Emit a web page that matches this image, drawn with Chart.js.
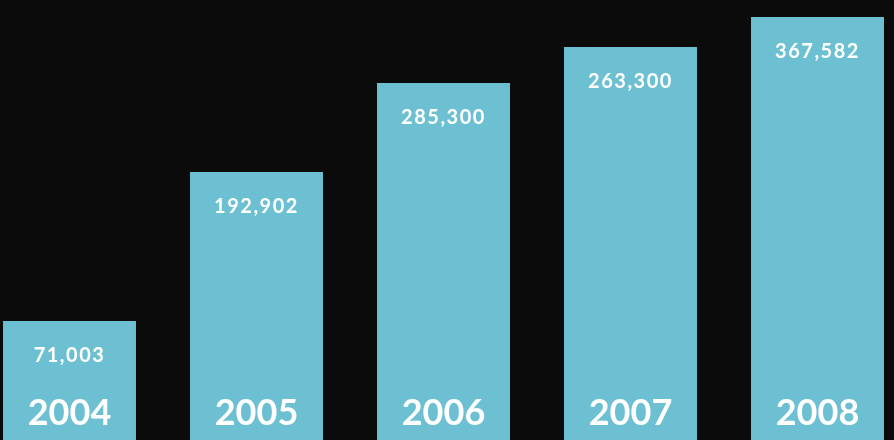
<!DOCTYPE html>
<html>
<head>
<meta charset="utf-8">
<script src="https://cdn.jsdelivr.net/npm/chart.js@4/dist/chart.umd.min.js"></script>
<style>
    html, body { margin: 0; padding: 0; background: #0b0b0b; overflow: hidden; }
    #wrap { position: absolute; left: -24.5px; top: 0; width: 935px; height: 440px; }
</style>
</head>
<body>
<div id="wrap"><canvas id="chart"></canvas></div>
<script>
// 年份与柱子数据
const years = ['2004', '2005', '2006', '2007', '2008'];
// 柱高（按图片读出，与标注数字不成比例）
const barHeights = [119, 268, 357, 393, 423];
// 柱内标注
const valueLabels = ['71,003', '192,902', '285,300', '263,300', '367,582'];

const barColor = '#6cc0d2';

// 在柱子内部画数字和年份
const barTextPlugin = {
    id: 'barText',
    afterDatasetsDraw(chart) {
        const ctx = chart.ctx;
        const meta = chart.getDatasetMeta(0);
        const bottom = chart.chartArea.bottom;
        ctx.save();
        ctx.fillStyle = '#ffffff';
        ctx.textAlign = 'center';
        ctx.textBaseline = 'middle';
        meta.data.forEach((bar, i) => {
            ctx.font = 'bold 20px Lato';
            ctx.letterSpacing = '1.5px';
            ctx.fillText(valueLabels[i], bar.x, bar.y + 35);
            ctx.font = 'bold 36px Lato';
            ctx.letterSpacing = '0px';
            ctx.fillText(years[i], bar.x, bottom - 27);
        });
        ctx.restore();
    }
};

new Chart(document.getElementById('chart'), {
    type: 'bar',
    data: {
        labels: years,
        datasets: [{
            data: barHeights,
            backgroundColor: barColor,
            borderWidth: 0,
            barPercentage: 0.711,
            categoryPercentage: 1.0
        }]
    },
    options: {
        responsive: true,
        maintainAspectRatio: false,
        animation: false,
        layout: { padding: 0 },
        plugins: {
            legend: { display: false },
            tooltip: { enabled: false }
        },
        scales: {
            x: { display: false },
            y: { display: false, min: 0, max: 440 }
        }
    },
    plugins: [barTextPlugin]
});
</script>
</body>
</html>
